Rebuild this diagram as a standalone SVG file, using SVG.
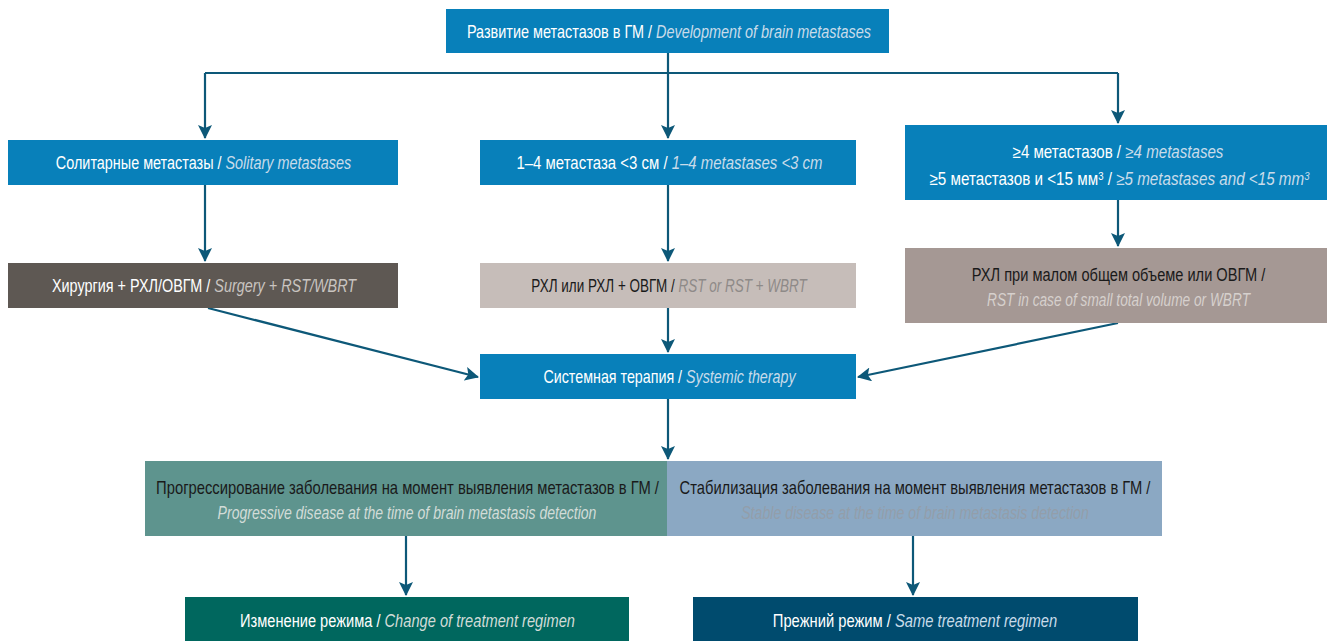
<svg xmlns="http://www.w3.org/2000/svg" width="1327" height="641" viewBox="0 0 1327 641">
<style>
text{font-family:"Liberation Sans",Arial,sans-serif;font-size:17.5px;text-anchor:middle}
.w{fill:#ffffff}
.k{fill:#1a1a1a}
.i{font-style:italic}
.ib{fill:#c9dcea}
.ig1{fill:#c9c4c0}
.ig2{fill:#8e8a88}
.ig3{fill:#d6d0cd}
.ig4{fill:#d2dcd8}
.ig5{fill:#939eaa}
.sup{font-size:11px}
.c{fill:none;stroke:#0d5878;stroke-width:2.2}
</style>
<defs>
<marker id="a" viewBox="0 0 14 14" refX="13" refY="7" markerWidth="14" markerHeight="14" markerUnits="userSpaceOnUse" orient="auto">
<path d="M0,0 L14,7 L0,14 L3,7 Z" fill="#0d5878"/>
</marker>
</defs>
<g id="connectors">
<path class="c" d="M668,53 V73 M205,73 H1118"/>
<path class="c" d="M205,73 V138" marker-end="url(#a)"/>
<path class="c" d="M668,73 V138" marker-end="url(#a)"/>
<path class="c" d="M1118,73 V123" marker-end="url(#a)"/>
<path class="c" d="M205,185 V261" marker-end="url(#a)"/>
<path class="c" d="M668,185 V261" marker-end="url(#a)"/>
<path class="c" d="M1118,200 V246" marker-end="url(#a)"/>
<path class="c" d="M208,308 L478,377" marker-end="url(#a)"/>
<path class="c" d="M668,308 V352" marker-end="url(#a)"/>
<path class="c" d="M1118,323 L858,377" marker-end="url(#a)"/>
<path class="c" d="M668,399 V459" marker-end="url(#a)"/>
<path class="c" d="M406,536 V595" marker-end="url(#a)"/>
<path class="c" d="M913,536 V595" marker-end="url(#a)"/>
</g>
<g id="n-top">
<rect x="446" y="9" width="443" height="44" fill="#0880ba"/>
<text transform="translate(669,38) scale(0.826,1)"><tspan class="w">Развитие метастазов в ГМ / </tspan><tspan class="i ib">Development of brain metastases</tspan></text>
</g>
<g id="n-solitary">
<rect x="8" y="140" width="390" height="45" fill="#0880ba"/>
<text transform="translate(203.5,169) scale(0.824,1)"><tspan class="w">Солитарные метастазы / </tspan><tspan class="i ib">Solitary metastases</tspan></text>
</g>
<g id="n-14">
<rect x="480" y="140" width="376" height="45" fill="#0880ba"/>
<text transform="translate(669.5,169) scale(0.855,1)"><tspan class="w">1–4 метастаза &lt;3 см / </tspan><tspan class="i ib">1–4 metastases &lt;3 cm</tspan></text>
</g>
<g id="n-ge4">
<rect x="905" y="125" width="422" height="75" fill="#0880ba"/>
<text transform="translate(1118,158) scale(0.864,1)"><tspan class="w">≥4 метастазов / </tspan><tspan class="i ib">≥4 metastases</tspan></text>
<text transform="translate(1119.5,185) scale(0.87,1)"><tspan class="w">≥5 метастазов и &lt;15 мм</tspan><tspan class="w sup" baseline-shift="super">3</tspan><tspan class="w"> / </tspan><tspan class="i ib">≥5 metastases and &lt;15 mm</tspan><tspan class="i ib sup" baseline-shift="super">3</tspan></text>
</g>
<g id="n-surgery">
<rect x="8" y="263" width="390" height="45" fill="#5e5853"/>
<text transform="translate(204,292) scale(0.824,1)"><tspan class="w">Хирургия + РХЛ/ОВГМ / </tspan><tspan class="i ig1">Surgery + RST/WBRT</tspan></text>
</g>
<g id="n-rst">
<rect x="480" y="263" width="376" height="45" fill="#c6bdb9"/>
<text transform="translate(669,292) scale(0.771,1)"><tspan class="k">РХЛ или РХЛ + ОВГМ / </tspan><tspan class="i ig2">RST or RST + WBRT</tspan></text>
</g>
<g id="n-rstsmall">
<rect x="905" y="248" width="422" height="75" fill="#a59894"/>
<text class="k" transform="translate(1118.5,281) scale(0.835,1)">РХЛ при малом общем объеме или ОВГМ /</text>
<text class="i ig3" transform="translate(1118.5,306) scale(0.783,1)">RST in case of small total volume or WBRT</text>
</g>
<g id="n-systemic">
<rect x="480" y="354" width="376" height="45" fill="#0880ba"/>
<text transform="translate(669.5,383) scale(0.816,1)"><tspan class="w">Системная терапия / </tspan><tspan class="i ib">Systemic therapy</tspan></text>
</g>
<g id="n-progressive">
<rect x="145" y="461" width="522" height="75" fill="#5e948e"/>
<text class="k" transform="translate(407.5,494) scale(0.845,1)">Прогрессирование заболевания на момент выявления метастазов в ГМ /</text>
<text class="i ig4" transform="translate(407,519) scale(0.804,1)">Progressive disease at the time of brain metastasis detection</text>
</g>
<g id="n-stable">
<rect x="667" y="461" width="495" height="75" fill="#8ba8c3"/>
<text class="k" transform="translate(915,494) scale(0.842,1)">Стабилизация заболевания на момент выявления метастазов в ГМ /</text>
<text class="i ig5" transform="translate(915,519) scale(0.811,1)">Stable disease at the time of brain metastasis detection</text>
</g>
<g id="n-change">
<rect x="185" y="597" width="444" height="44" fill="#00675e"/>
<text transform="translate(407.5,627) scale(0.837,1)"><tspan class="w">Изменение режима / </tspan><tspan class="i ig4">Change of treatment regimen</tspan></text>
</g>
<g id="n-same">
<rect x="693" y="597" width="445" height="44" fill="#004b6e"/>
<text transform="translate(915,627) scale(0.843,1)"><tspan class="w">Прежний режим / </tspan><tspan class="i ib">Same treatment regimen</tspan></text>
</g>
</svg>
